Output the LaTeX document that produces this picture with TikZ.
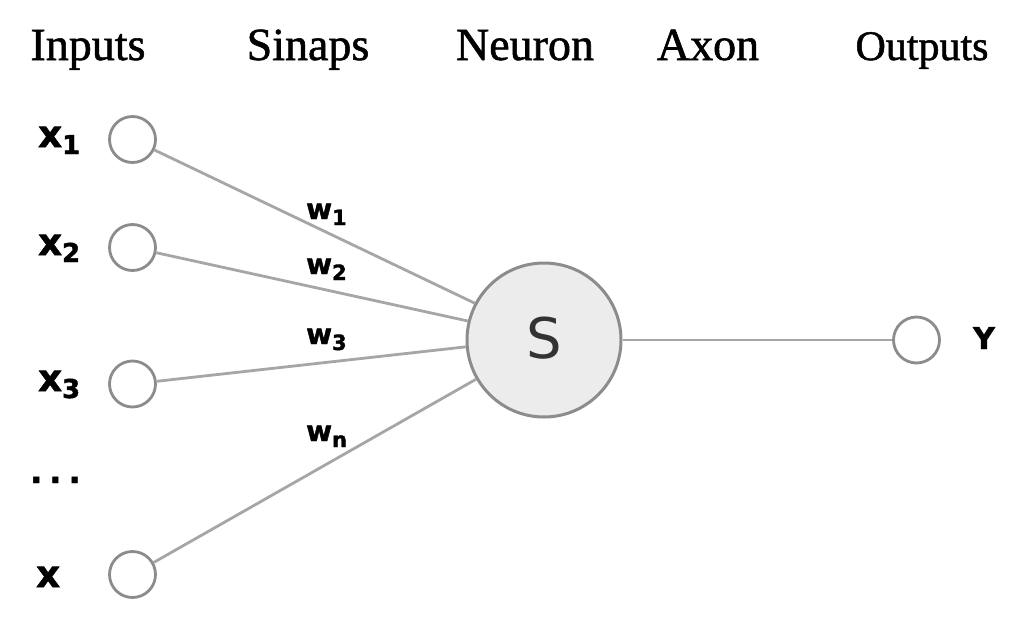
\documentclass[tikz,border=0pt]{standalone}
\usepackage{fontspec}
\setmainfont{Liberation Serif}
\newfontfamily\headfont[FakeBold=1.2]{Liberation Serif}
\newfontfamily\lblfont{DejaVu Sans}
\newfontfamily\lblboldfont[FakeBold=1.5]{DejaVu Sans Bold}
\definecolor{ringgray}{HTML}{8C8C8C}
\definecolor{linegray}{HTML}{A6A6A6}
\definecolor{cellfill}{HTML}{ECECEC}
\newcommand{\hdr}[1]{{\headfont\fontsize{46}{46}\selectfont #1}}
\newcommand{\xl}[2]{{\lblboldfont\fontsize{37}{37}\selectfont x\raisebox{-7pt}{\fontsize{26}{26}\selectfont #2}}}
\newcommand{\wl}[1]{{\lblboldfont\fontsize{28}{28}\selectfont w\raisebox{-6pt}{\fontsize{21}{21}\selectfont #1}}}
\begin{document}
\begin{tikzpicture}[x=1pt,y=-1pt,
  incell/.style={circle,draw=ringgray,line width=2.8pt,fill=white,minimum size=46pt,inner sep=0pt},
  neuron/.style={circle,draw=ringgray,line width=3pt,fill=cellfill,minimum size=154pt,inner sep=0pt},
  wire/.style={draw=linegray,line width=2.8pt},
  hd/.style={anchor=base,inner sep=0pt}]
\useasboundingbox[fill=white] (0,0) rectangle (1024,626);
% headers
\node[hd] (h1) at (88,60) {\hdr{Inputs}};
\node[hd] (h2) at (308,60) {\hdr{Sinaps}};
\node[hd] (h3) at (525,60) {\hdr{Neuron}};
\node[hd] (h4) at (708,60) {\hdr{Axon}};
\node[hd] (h5) at (922,60) {{\headfont\fontsize{42}{42}\selectfont Outputs}};
% cells
\node[neuron] (s) at (544,340) {};
\node[anchor=center] (sl) at (544,338) {\lblfont\fontsize{56}{56}\selectfont\color[HTML]{333333}S};
\node[incell] (x1) at (132.5,139.5) {};
\node[incell] (x2) at (132.5,247.5) {};
\node[incell] (x3) at (132.5,384) {};
\node[incell] (xn) at (132.5,574.5) {};
\node[incell] (y) at (916.5,340) {};
% wires
\draw[wire] (x1) -- (s.152.8);
\draw[wire] (x2) -- (s.166.8);
\draw[wire] (x3) -- (s.185.8);
\draw[wire] (xn) -- (s.210);
\draw[wire] (s) -- (y);
% labels
\node[anchor=base west,inner sep=0pt] (lx1) at (38,147) {\xl{x}{1}};
\node[anchor=base west,inner sep=0pt] (lx2) at (38,255) {\xl{x}{2}};
\node[anchor=base west,inner sep=0pt] (lx3) at (38,391) {\xl{x}{3}};
\node[anchor=base west,inner sep=0pt] (lxn) at (36,587) {{\lblboldfont\fontsize{37}{37}\selectfont x}};
\node[anchor=base west,inner sep=0pt] (dots) at (30,483) {{\lblboldfont\fontsize{32}{32}\selectfont .\hspace{7pt}.\hspace{7pt}.}};
\node[anchor=base west,inner sep=0pt] (w1) at (306,219) {\wl{1}};
\node[anchor=base west,inner sep=0pt] (w2) at (306,274) {\wl{2}};
\node[anchor=base west,inner sep=0pt] (w3) at (306,344) {\wl{3}};
\node[anchor=base west,inner sep=0pt] (wn) at (306,441) {\wl{n}};
\node[anchor=base,inner sep=0pt] (ly) at (984,349) {{\lblboldfont\fontsize{30}{30}\selectfont Y}};
\end{tikzpicture}
\end{document}
